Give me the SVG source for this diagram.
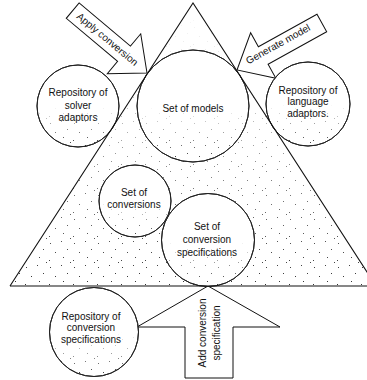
<svg xmlns="http://www.w3.org/2000/svg" width="367" height="380" viewBox="0 0 367 380">
<style>
.t{font-family:"Liberation Sans",Arial,sans-serif;font-size:10px;fill:#111;text-anchor:middle}
.node{fill:#fff;stroke:#222;stroke-width:1}
.st{fill:url(#dots);mask:url(#maskC)}
.arrow{fill:#fff;stroke:#111;stroke-width:1;stroke-linejoin:miter}
.edge{fill:none;stroke:#111;stroke-width:1.1}
</style>
<defs>
<pattern id="dots" width="24" height="24" patternUnits="userSpaceOnUse">
<g fill="#333">
<rect x="2" y="3" width="1" height="1"/>
<rect x="13" y="1" width="1" height="1"/>
<rect x="19" y="9" width="1" height="1"/>
<rect x="7" y="12" width="1" height="1"/>
<rect x="15" y="17" width="1" height="1"/>
<rect x="1" y="20" width="1" height="1"/>
<rect x="22" y="22" width="1" height="1"/>
</g>
</pattern>
<linearGradient id="fadeT" gradientUnits="userSpaceOnUse" x1="0" y1="3" x2="0" y2="286">
<stop offset="0" stop-color="#000"/>
<stop offset="0.3" stop-color="#333"/>
<stop offset="0.6" stop-color="#999"/>
<stop offset="1" stop-color="#fff"/>
</linearGradient>
<linearGradient id="fadeC" x1="0" y1="0" x2="0" y2="1">
<stop offset="0" stop-color="#000"/>
<stop offset="0.5" stop-color="#000"/>
<stop offset="1" stop-color="#fff"/>
</linearGradient>
<mask id="maskT" maskUnits="userSpaceOnUse" x="0" y="0" width="367" height="380">
<rect x="0" y="0" width="367" height="380" fill="url(#fadeT)"/>
</mask>
<mask id="maskC" maskContentUnits="objectBoundingBox">
<rect x="0" y="0" width="1" height="1" fill="url(#fadeC)"/>
</mask>
</defs>

<g id="triangle">
<polygon points="10,286 193,3 376,286" fill="url(#dots)" mask="url(#maskT)"/>
</g>

<g id="connectors">
<g id="apply-conversion" transform="translate(147,73) rotate(40)">
<polygon class="arrow" points="0,0 -30,26 -30,10 -97,10 -97,-10 -30,-10 -30,-26"/>
<text class="t" x="-52" y="3" font-size="9.5">Apply conversion</text>
</g>
<g id="generate-model">
<polygon class="arrow" transform="translate(237,70) rotate(151)" points="0,0 -30,26 -30,10 -97,10 -97,-10 -30,-10 -30,-26"/>
<text class="t" transform="translate(278,44) rotate(-29)" x="0" y="3.5">Generate model</text>
</g>
<g id="add-conversion-specification">
<polygon class="arrow" points="208,286 280,327 233,327 233,378 185,378 185,327 137,327"/>
<text class="t" transform="translate(209,333) rotate(-90)" x="0" y="-3">Add conversion</text>
<text class="t" transform="translate(209,333) rotate(-90)" x="0" y="11">specification</text>
</g>
</g>

<g id="set-of-models">
<circle class="node" cx="193" cy="106" r="56"/>
<circle class="st" cx="193" cy="106" r="56"/>
<circle cx="193" cy="106" r="56" fill="none" stroke="#222"/>
<text class="t" x="193" y="112">Set of models</text>
</g>

<g id="repository-of-solver-adaptors">
<circle class="node" cx="78" cy="106" r="41"/>
<circle class="st" cx="78" cy="106" r="41"/>
<circle cx="78" cy="106" r="41" fill="none" stroke="#222"/>
<text class="t" x="78" y="96">Repository of</text>
<text class="t" x="78" y="108.5">solver</text>
<text class="t" x="78" y="121">adaptors</text>
</g>

<g id="repository-of-language-adaptors">
<circle class="node" cx="308" cy="104" r="42"/>
<circle class="st" cx="308" cy="104" r="42"/>
<circle cx="308" cy="104" r="42" fill="none" stroke="#222"/>
<text class="t" x="308" y="93.5">Repository of</text>
<text class="t" x="308" y="105">language</text>
<text class="t" x="308" y="116.5">adaptors.</text>
</g>

<g id="set-of-conversions">
<circle class="node" cx="135" cy="201" r="36"/>
<circle class="st" cx="135" cy="201" r="36"/>
<circle cx="135" cy="201" r="36" fill="none" stroke="#222"/>
<text class="t" x="134" y="195.5">Set of</text>
<text class="t" x="134" y="207.5">conversions</text>
</g>

<g id="set-of-conversion-specifications">
<circle class="node" cx="208" cy="240" r="46.5"/>
<circle class="st" cx="208" cy="240" r="46.5"/>
<circle cx="208" cy="240" r="46.5" fill="none" stroke="#222"/>
<text class="t" x="207" y="229.5">Set of</text>
<text class="t" x="207" y="242.5">conversion</text>
<text class="t" x="207" y="255.5">specifications</text>
</g>

<g id="repository-of-conversion-specifications">
<circle class="node" cx="94" cy="332" r="44.5"/>
<circle class="st" cx="94" cy="332" r="44.5"/>
<circle cx="94" cy="332" r="44.5" fill="none" stroke="#222"/>
<text class="t" x="91" y="319.5">Repository of</text>
<text class="t" x="91" y="331">conversion</text>
<text class="t" x="91" y="342.5">specifications</text>
</g>

<g id="triangle-outline">
<polyline class="edge" points="10,286 193,3 376,286"/>
<line class="edge" x1="10" y1="286" x2="367" y2="286"/>
</g>
</svg>
